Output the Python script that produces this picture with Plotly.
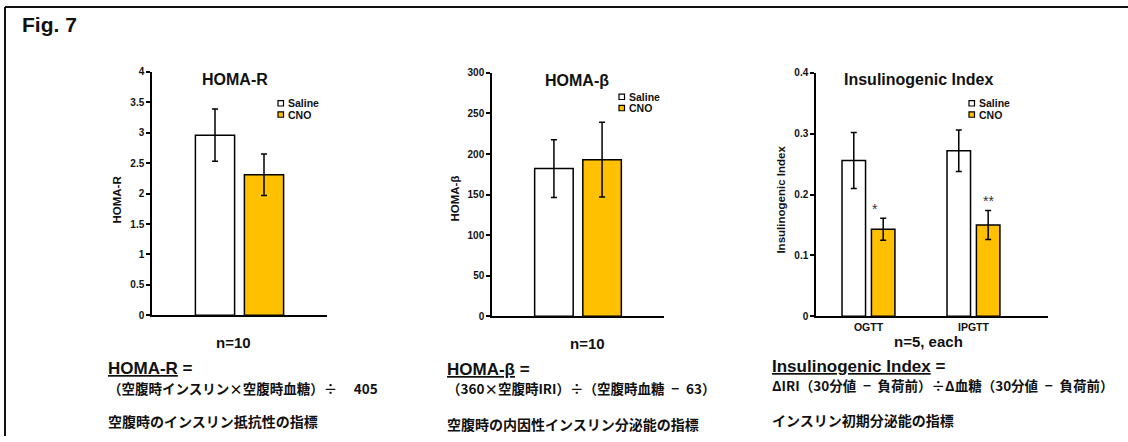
import plotly.graph_objects as go

W, H = 1128, 442
FONT = "Liberation Sans, Arial, Noto Sans CJK JP, sans-serif"
CJK = "Noto Sans CJK JP, Liberation Sans, sans-serif"

series = ["Saline", "CNO"]
colors = ["#FFFFFF", "#FFC000"]

# Panel 1: HOMA-R
homa_r_cats = ["HOMA-R"]
homa_r_saline = [2.96]
homa_r_saline_err = [0.43]
homa_r_cno = [2.31]
homa_r_cno_err = [0.34]

# Panel 2: HOMA-beta
homa_b_cats = ["HOMA-β"]
homa_b_saline = [182]
homa_b_saline_err = [35.5]
homa_b_cno = [193]
homa_b_cno_err = [46]

# Panel 3: Insulinogenic Index
ii_cats = ["OGTT", "IPGTT"]
ii_saline = [0.256, 0.272]
ii_saline_err = [0.046, 0.034]
ii_cno = [0.143, 0.150]
ii_cno_err = [0.018, 0.024]
ii_stars = ["*", "**"]

titles = ["HOMA-R", "HOMA-β", "Insulinogenic Index"]
ytitles = ["HOMA-R", "HOMA-β", "Insulinogenic Index"]
n_labels = ["n=10", "n=10", "n=5, each"]
headers = ["HOMA-R", "HOMA-β", "Insulinogenic Index"]
formulas = ["（空腹時インスリン×空腹時血糖）÷\u3000 405",
            "（360×空腹時IRI）÷（空腹時血糖\u2002−\u200263）",
            "ΔIRI（30分値\u2002−\u2002負荷前）÷Δ血糖（30分値\u2002−\u2002負荷前）"]
descriptions = ["空腹時のインスリン抵抗性の指標",
                "空腹時の内因性インスリン分泌能の指標",
                "インスリン初期分泌能の指標"]


def X(px):
    return px / W


def Y(py):
    # target pixel row -> paper coordinate (compensates the page's vertical offset/scale)
    return 1 - ((py - 4.0) / 0.975) / H


fig = go.Figure()

panels = [
    (homa_r_cats, [homa_r_saline, homa_r_cno], [homa_r_saline_err, homa_r_cno_err]),
    (homa_b_cats, [homa_b_saline, homa_b_cno], [homa_b_saline_err, homa_b_cno_err]),
    (ii_cats, [ii_saline, ii_cno], [ii_saline_err, ii_cno_err]),
]

for i, (cats, vals, errs) in enumerate(panels):
    sfx = "" if i == 0 else str(i + 1)
    for s in range(2):
        fig.add_trace(go.Bar(
            x=cats, y=vals[s], name=series[s],
            marker=dict(color=colors[s], line=dict(color="black", width=1.5)),
            error_y=dict(type="data", array=errs[s], color="black", thickness=1.5, width=3),
            xaxis="x" + sfx, yaxis="y" + sfx, showlegend=False,
        ))

layout = dict(
    width=W, height=H, autosize=False,
    margin=dict(l=0, r=0, t=0, b=0),
    paper_bgcolor="white", plot_bgcolor="white",
    barmode="group", bargap=0.44, bargroupgap=0.2,
    font=dict(family=FONT, color="#111", size=10),
    showlegend=False,
)

xdoms = [(152, 327), (492, 664), (816, 1048)]
ydoms = [(314, 70), (315, 71), (315, 71)]
yranges = [[0, 4], [0, 300], [0, 0.4]]
ydticks = [0.5, 50, 0.1]
xranges = [[-0.5, 0.5], [-0.5, 0.5], [-0.5, 1.71]]

for i in range(3):
    sfx = "" if i == 0 else str(i + 1)
    layout["xaxis" + sfx] = dict(
        domain=[X(xdoms[i][0]), X(xdoms[i][1])], anchor="y" + sfx,
        range=xranges[i], showline=True, linecolor="black", linewidth=1.5,
        showgrid=False, zeroline=False, ticks="", fixedrange=True,
        showticklabels=(i == 2),
        tickfont=dict(family=FONT, size=10.5, color="#111", weight="bold"),
        type="category",
    )
    layout["yaxis" + sfx] = dict(
        domain=[Y(ydoms[i][0]), Y(ydoms[i][1])], anchor="x" + sfx,
        range=yranges[i], dtick=ydticks[i], tick0=0,
        showline=True, linecolor="black", linewidth=1.5,
        ticks="outside", ticklen=4, tickwidth=1.5, tickcolor="black",
        showgrid=False, zeroline=False, fixedrange=True,
        tickfont=dict(family=FONT, size=10, color="#111", weight="bold"),
    )

fig.update_layout(**layout)

ann = []
shapes = []

# Figure label
ann.append(dict(x=X(20), y=Y(23), xref="paper", yref="paper", text="<b>Fig. 7</b>",
                showarrow=False, xanchor="left", yanchor="middle",
                font=dict(family=FONT, size=21, color="#111")))

title_pos = [(235, 78), (577, 79), (918, 78)]
ytitle_pos = [(117, 198), (455, 197), (781, 198)]
legend_pos = [(278, 101.5), (619, 95), (969, 101.5)]
n_pos = [(233, 341), (587, 342), (928, 340)]
text_left = [106, 445, 770]
header_y = [367, 368, 365]
formula_y = [387, 387, 384]
desc_y = [420, 423, 419]

for i in range(3):
    ann.append(dict(x=X(title_pos[i][0]), y=Y(title_pos[i][1]), xref="paper", yref="paper",
                    text="<b>%s</b>" % titles[i], showarrow=False,
                    xanchor="center", yanchor="middle",
                    font=dict(family=FONT, size=16, color="#111")))
    ann.append(dict(x=X(ytitle_pos[i][0]), y=Y(ytitle_pos[i][1]), xref="paper", yref="paper",
                    text="<b>%s</b>" % ytitles[i], showarrow=False, textangle=-90,
                    xanchor="center", yanchor="middle",
                    font=dict(family=FONT, size=11.5, color="#111")))
    lx, ly = legend_pos[i]
    for s in range(2):
        cy = ly + s * 11.3
        shapes.append(dict(type="rect", xref="paper", yref="paper",
                           x0=X(lx), x1=X(lx + 5.5), y0=Y(cy + 2.7), y1=Y(cy - 2.7),
                           fillcolor=colors[s], line=dict(color="black", width=1.2)))
        ann.append(dict(x=X(lx + 7.5), y=Y(cy), xref="paper", yref="paper",
                        text="<b>%s</b>" % series[s], showarrow=False,
                        xanchor="left", yanchor="middle",
                        font=dict(family=FONT, size=10.5, color="#111")))
    ann.append(dict(x=X(n_pos[i][0]), y=Y(n_pos[i][1]), xref="paper", yref="paper",
                    text="<b>%s</b>" % n_labels[i], showarrow=False,
                    xanchor="center", yanchor="middle",
                    font=dict(family=FONT, size=15, color="#111")))
    ann.append(dict(x=X(text_left[i]), y=Y(header_y[i]), xref="paper", yref="paper",
                    text="<b><u>%s</u> =</b>" % headers[i], showarrow=False,
                    xanchor="left", yanchor="middle",
                    font=dict(family=FONT, size=17, color="#111")))
    ann.append(dict(x=X(text_left[i]), y=Y(formula_y[i]), xref="paper", yref="paper",
                    text="<b>%s</b>" % formulas[i], showarrow=False,
                    xanchor="left", yanchor="middle",
                    font=dict(family=CJK, size=13.5, color="#111")))
    ann.append(dict(x=X(text_left[i]), y=Y(desc_y[i]), xref="paper", yref="paper",
                    text="<b>%s</b>" % descriptions[i], showarrow=False,
                    xanchor="left", yanchor="middle",
                    font=dict(family=CJK, size=14, color="#111")))

# significance stars over CNO bars in panel 3
for k, cat in enumerate(ii_cats):
    ann.append(dict(x=cat, y=ii_cno[k] + ii_cno_err[k], xref="x3", yref="y3",
                    text=ii_stars[k], showarrow=False, xanchor="center", yanchor="bottom",
                    xshift=15 - (8 if k == 0 else 0), yshift=-1,
                    font=dict(family=FONT, size=14, color="#333")))

# frame lines (top and left)
shapes.append(dict(type="line", xref="paper", yref="paper", x0=X(5), x1=1.0, y0=1 - 1.0 / H, y1=1 - 1.0 / H,
                   line=dict(color="#111", width=2)))
shapes.append(dict(type="line", xref="paper", yref="paper", x0=X(5), x1=X(5), y0=1 - 1.0 / H, y1=0,
                   line=dict(color="#111", width=2)))

fig.update_layout(annotations=ann, shapes=shapes)
fig.write_html("out.html", config={"displayModeBar": False},
               post_script="document.body.style.margin='0';document.body.style.overflow='hidden';")
